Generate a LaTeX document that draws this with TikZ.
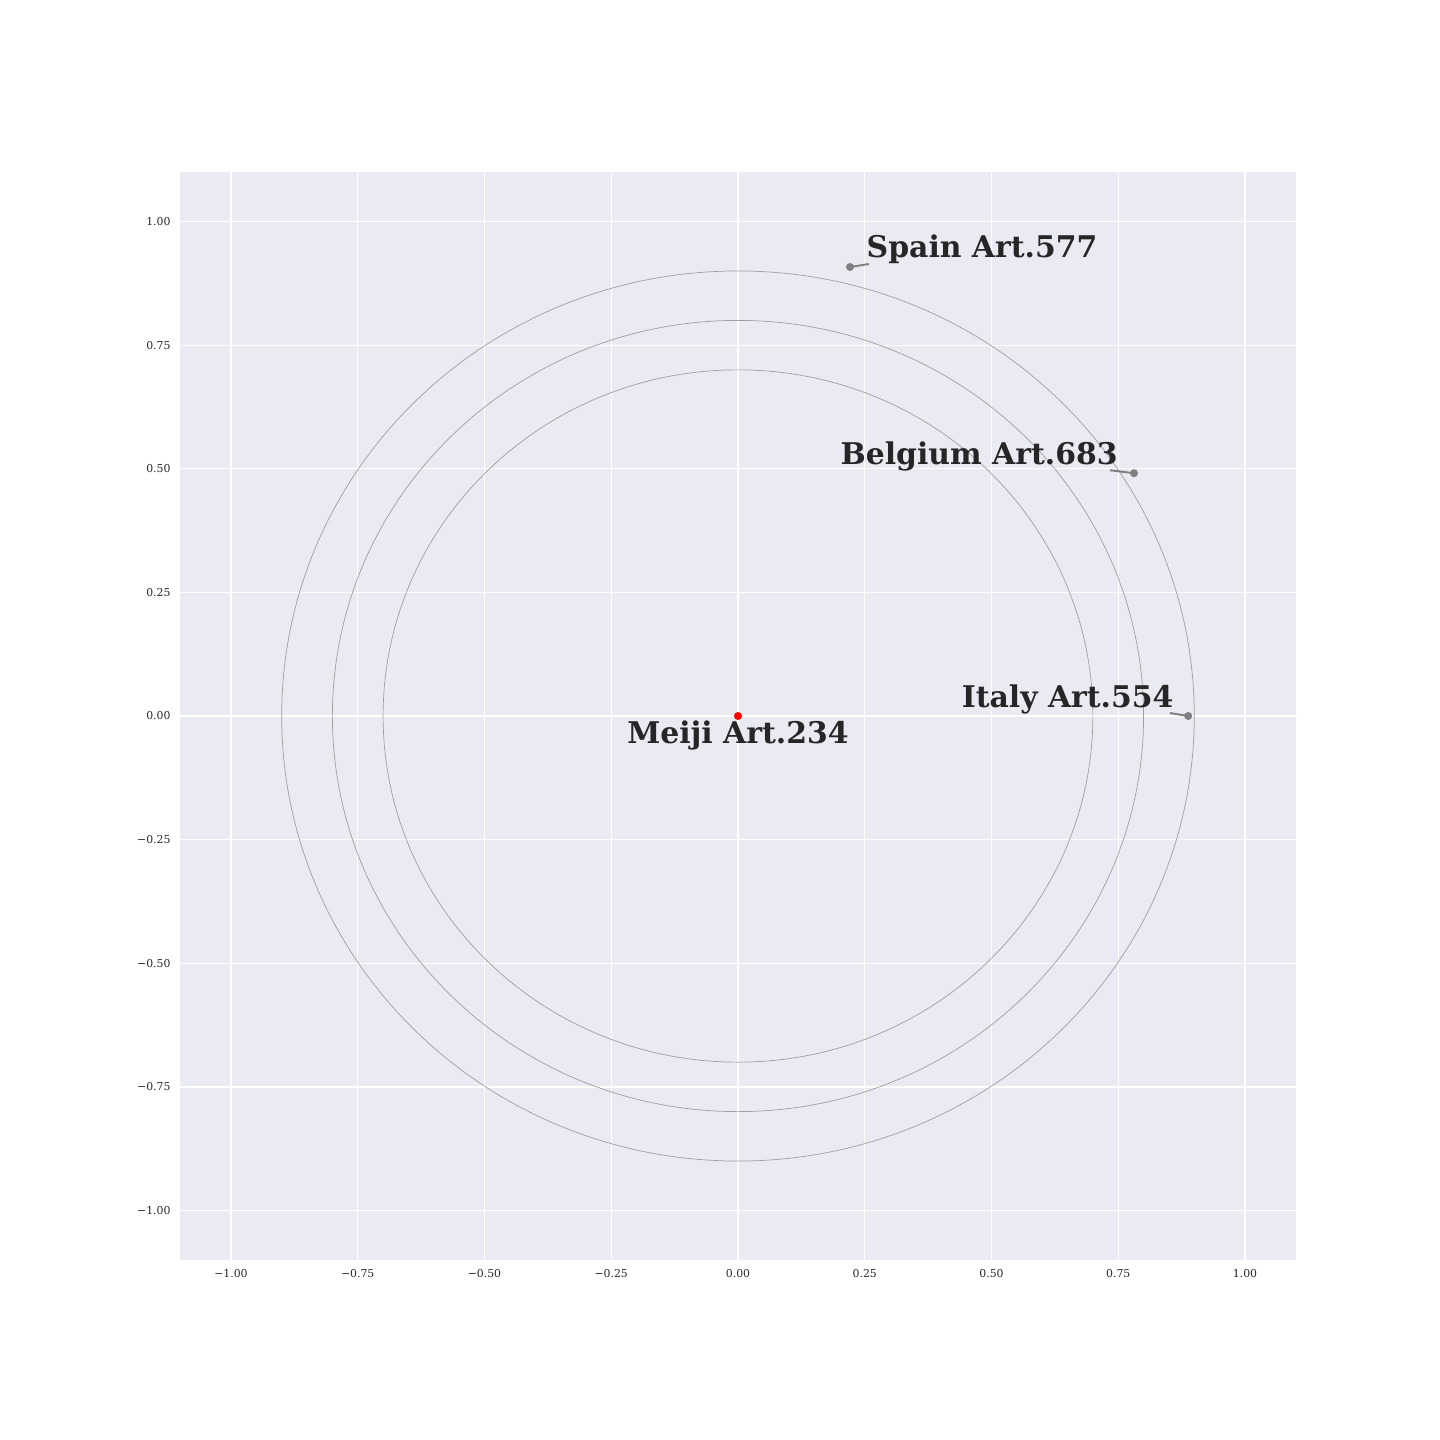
\documentclass[tikz,border=0pt]{standalone}
\usepackage{fontspec}
\setmainfont{DejaVu Serif}
\usetikzlibrary{positioning}
\definecolor{axbg}{HTML}{EAEAF2}
\definecolor{txt}{HTML}{262626}
\begin{document}
\begin{tikzpicture}[x=5.07cm, y=4.945cm,
    tick/.style={font=\fontsize{3.1}{4}\selectfont, text=txt, inner sep=0pt},
    lbl/.style={font=\fontsize{8.5}{10}\selectfont\bfseries, text=txt, inner sep=0pt},
    dot/.style={circle, fill=gray, inner sep=0pt, minimum size=0.08cm},
    ring/.style={gray!75, line width=0.2pt},
    link/.style={gray, line width=0.55pt}]

    \useasboundingbox (-1.4556,-1.4641) rectangle (1.3846,1.4479);

    % axes background and grid
    \fill[axbg] (-1.1,-1.1) rectangle (1.1,1.1);
    \foreach \v in {-1,-0.75,-0.5,-0.25,0,0.25,0.5,0.75,1} {
        \draw[white, line width=0.35pt] (\v,-1.1) -- (\v,1.1);
        \draw[white, line width=0.35pt] (-1.1,\v) -- (1.1,\v);
    }

    % tick labels
    \foreach \v/\t in {-1/{−1.00},-0.75/{−0.75},-0.5/{−0.50},-0.25/{−0.25},0/{0.00},0.25/{0.25},0.5/{0.50},0.75/{0.75},1/{1.00}} {
        \node[tick, anchor=center] at ([yshift=-0.14cm]\v,-1.1) {\t};
        \node[tick, anchor=east] at ([xshift=-0.09cm]-1.1,\v) {\t};
    }

    % rings
    \draw[ring] (0,0) circle (0.7);
    \draw[ring] (0,0) circle (0.8);
    \draw[ring] (0,0) circle (0.9);

    % points
    \node[circle, fill=red, inner sep=0pt, minimum size=0.08cm] (meiji) at (0,0) {};
    \node[dot] (spain) at (0.221,0.908) {};
    \node[dot] (belgium) at (0.781,0.491) {};
    \node[dot] (italy) at (0.888,0) {};

    % labels
    \node[lbl, anchor=base] (meijilbl) at (0,-0.0566) {Meiji Art.234};
    \node[lbl, anchor=base west] (spainlbl) at (0.2525,0.928) {Spain Art.577};
    \node[lbl, anchor=base west] (belgiumlbl) at (0.201,0.5076) {Belgium Art.683};
    \node[lbl, anchor=base west] (italylbl) at (0.440,0.018) {Italy Art.554};

    \coordinate (spainend) at (0.258,0.914);
    \coordinate (belgiumend) at (0.734,0.497);
    \coordinate (italyend) at (0.852,0.006);

    \draw[link] (spain.center) -- (spainend);
    \draw[link] (belgium.center) -- (belgiumend);
    \draw[link] (italy.center) -- (italyend);

\end{tikzpicture}
\end{document}
